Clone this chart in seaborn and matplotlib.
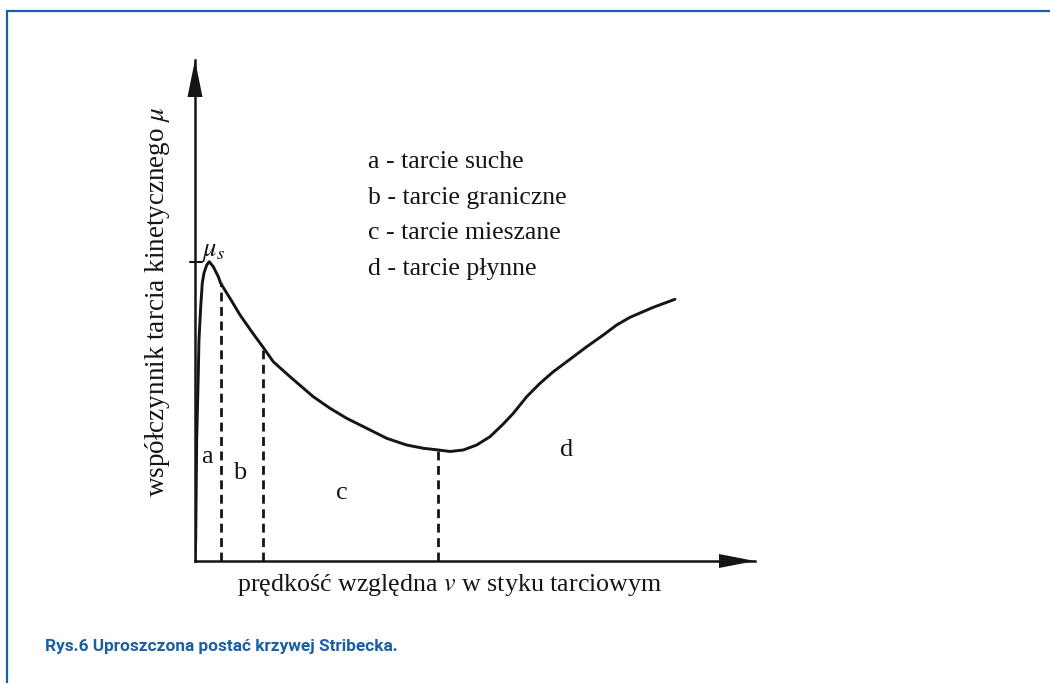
import numpy as np
import matplotlib
matplotlib.use("Agg")
import matplotlib.pyplot as plt
from matplotlib.lines import Line2D
from matplotlib.patches import Polygon
import seaborn as sns

# Stribeck curve: relative sliding velocity v vs kinetic friction coefficient mu (arbitrary units)
v = [0.0, 0.0125, 0.030, 0.059, 0.071, 0.102, 0.130, 0.161, 0.209, 0.255,
     0.327, 0.416, 0.459, 0.625, 0.804, 1.0125, 1.209, 1.398, 1.696, 2.1125,
     2.411, 2.709, 3.066, 3.423, 3.780, 4.077, 4.345, 4.554, 4.791, 5.030,
     5.268, 5.505, 5.684, 5.923, 6.161, 6.398, 6.696, 6.995, 7.291, 7.530,
     7.768, 8.184, 8.571]
mu = [0.0, 0.419, 2.415, 3.752, 4.411, 5.076, 5.549, 5.749, 5.908, 5.974,
      5.874, 5.675, 5.543, 5.244, 4.910, 4.577, 4.277, 3.978, 3.679, 3.279,
      3.048, 2.848, 2.649, 2.449, 2.315, 2.250, 2.216, 2.186, 2.216, 2.315,
      2.481, 2.735, 2.948, 3.279, 3.547, 3.778, 4.026, 4.277, 4.511, 4.711,
      4.864, 5.064, 5.224]

mu_s = 5.974                               # static friction peak
boundaries = [0.459, 1.209, 4.345]         # a|b, b|c, c|d regime borders
regime_letters = ["a", "b", "c", "d"]
regime_pos = [(0.209, 2.08), (0.804, 1.76), (2.62, 1.36), (6.64, 2.22)]
legend_lines = ["a - tarcie suche", "b - tarcie graniczne",
                "c - tarcie mieszane", "d - tarcie płynne"]

ink = "#151515"
blue = "#1b5ea6"

sns.set_style("white")
plt.rcParams["mathtext.fontset"] = "stix"
serif = ["Liberation Serif", "DejaVu Serif"]

W, H = 1050, 683
fig = plt.figure(figsize=(W / 100, H / 100), dpi=100)
fig.patch.set_facecolor("white")

# axes box: origin at pixel (195, 561), arrow tips at x=755 and y=60
x0, y0, x1, y1 = 195, 561, 755, 60
ax = fig.add_axes([x0 / W, (H - y0) / H, (x1 - x0) / W, (y0 - y1) / H])
ax.set_xlim(0, 10)
ax.set_ylim(0, 10)
ax.set_facecolor("none")
for side in ["top", "right"]:
    ax.spines[side].set_visible(False)
for side in ["left", "bottom"]:
    ax.spines[side].set_color(ink)
    ax.spines[side].set_linewidth(1.8)
ax.set_xticks([])
ax.set_yticks([])

# arrowheads at the ends of both axes
px_x = 10 / (x1 - x0)
px_y = 10 / (y0 - y1)
ax.add_patch(Polygon([[10, 0], [10 - 36 * px_x, 7 * px_y], [10 - 36 * px_x, -7 * px_y]],
                     closed=True, color=ink, clip_on=False, lw=0))
ax.add_patch(Polygon([[0, 10], [-7.5 * px_x, 10 - 37 * px_y], [7.5 * px_x, 10 - 37 * px_y]],
                     closed=True, color=ink, clip_on=False, lw=0))

# the curve
sns.lineplot(x=v, y=mu, sort=False, estimator=None, color=ink, lw=2.1, ax=ax)
ax.lines[-1].set_solid_joinstyle("round")

# regime borders
for b in boundaries:
    top = np.interp(b, v[9:], mu[9:])
    ax.plot([b, b], [0, top], color=ink, lw=2.0, ls=(0, (3.2, 2.0)))

# mu_s tick on the vertical axis
ax.plot([-5 * px_x, 7 * px_x], [mu_s, mu_s], color=ink, lw=1.5, clip_on=False)
ax.text(0.33, mu_s + 0.22, r"$\mu_s$", fontsize=19, color=ink, ha="center", va="center")

# regime letters
for letter, (lx, ly) in zip(regime_letters, regime_pos):
    ax.text(lx, ly, letter, fontsize=19, family=serif, color=ink, ha="center", va="center")

# legend of regimes
for i, line in enumerate(legend_lines):
    ax.text(3.09, 7.96 - i * 0.71, line, fontsize=18.5, family=serif, color=ink,
            ha="left", va="center")

# axis titles
fig.text(157 / W, 1 - 302 / H, r"współczynnik tarcia kinetycznego $\mu$",
         rotation=90, fontsize=19.5, family=serif, color=ink, ha="center", va="center")
fig.text(450 / W, 1 - 585 / H, r"prędkość względna $v$ w styku tarciowym",
         fontsize=18.7, family=serif, color=ink, ha="center", va="center")

# caption
fig.text(45 / W, 1 - 647 / H, "Rys.6 Uproszczona postać krzywej Stribecka.",
         fontsize=12.4, fontweight="bold", family=["Roboto", "DejaVu Sans"],
         color=blue, ha="left", va="center")

# frame lines
fig.add_artist(Line2D([6.5 / W, 1], [1 - 10.5 / H, 1 - 10.5 / H], color=blue, lw=1.6))
fig.add_artist(Line2D([6.5 / W, 6.5 / W], [0, 1 - 10.5 / H], color=blue, lw=1.6))

fig.savefig("out.png", dpi=100)
